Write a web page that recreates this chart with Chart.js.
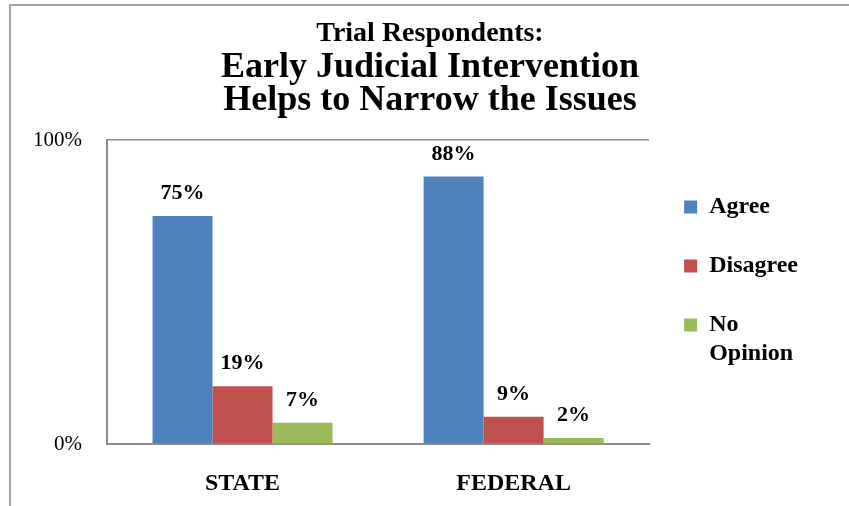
<!DOCTYPE html>
<html>
<head>
<meta charset="utf-8">
<script src="https://cdn.jsdelivr.net/npm/chart.js@4.4.1/dist/chart.umd.min.js"></script>
<style>
  html, body { margin: 0; padding: 0; background: #fff; }
  #contenedor { position: relative; width: 849px; height: 506px; overflow: hidden; }
  #marco { position: absolute; left: 9px; top: 4px; width: 900px; height: 600px; border-top: 2px solid #a3a3a3; border-left: 2px solid #a3a3a3; }
  canvas { position: absolute; left: 0; top: 0; }
</style>
</head>
<body>
<div id="contenedor">
  <div id="marco"></div>
  <canvas id="grafico" width="849" height="506"></canvas>
</div>
<script>
// datos
var categorias = ['STATE', 'FEDERAL'];
var acuerdo = [75, 88];
var desacuerdo = [19, 9];
var sinOpinion = [7, 2];
var marcasY = [0, 100];

var fuente = '"Liberation Serif", "Times New Roman", serif';

// etiquetas con el porcentaje encima de cada barra
var etiquetasBarras = {
    id: 'etiquetasBarras',
    afterDatasetsDraw: function(chart) {
        var ctx = chart.ctx;
        ctx.save();
        ctx.font = 'bold 22px ' + fuente;
        ctx.fillStyle = '#000';
        ctx.textAlign = 'center';
        ctx.textBaseline = 'alphabetic';
        chart.data.datasets.forEach(function(ds, i) {
            chart.getDatasetMeta(i).data.forEach(function(barra, j) {
                ctx.fillText(ds.data[j] + '%', barra.x, barra.y - 17);
            });
        });
        ctx.restore();
    }
};

var ctx = document.getElementById('grafico').getContext('2d');

new Chart(ctx, {
    type: 'bar',
    data: {
        labels: categorias,
        datasets: [
            { label: 'Agree', data: acuerdo, backgroundColor: '#4F81BD' },
            { label: 'Disagree', data: desacuerdo, backgroundColor: '#C0504D' },
            { label: ['No', 'Opinion'], data: sinOpinion, backgroundColor: '#9BBB59' }
        ]
    },
    options: {
        responsive: false,
        animation: false,
        datasets: {
            bar: { categoryPercentage: 0.664, barPercentage: 1 }
        },
        layout: { padding: { left: 20, right: 9, top: 0, bottom: 0 } },
        plugins: {
            title: {
                display: true,
                text: 'Trial Respondents:',
                color: '#000',
                font: { family: fuente, size: 28, weight: 'bold', lineHeight: 1.2 },
                padding: { top: 17, bottom: 0 }
            },
            subtitle: {
                display: true,
                text: ['Early Judicial Intervention', 'Helps to Narrow the Issues'],
                color: '#000',
                font: { family: fuente, size: 36, weight: 'bold', lineHeight: 0.917 },
                padding: { top: 1, bottom: 22.4 }
            },
            legend: {
                position: 'right',
                align: 'start',
                fullSize: false,
                title: { display: true, text: '', font: { size: 20, lineHeight: 1 }, padding: 0 },
                labels: {
                    boxWidth: 13,
                    boxHeight: 13,
                    padding: 35,
                    color: '#000',
                    font: { family: fuente, size: 24, weight: 'bold', lineHeight: 1.21 }
                }
            },
            tooltip: { enabled: false }
        },
        scales: {
            x: {
                offset: true,
                grid: { display: false, drawTicks: false },
                border: { display: true, color: '#8c8c8c', width: 2 },
                ticks: {
                    color: '#000',
                    padding: 25,
                    font: { family: fuente, size: 24, weight: 'bold' }
                },
                afterFit: function(escala) { escala.height = 62; }
            },
            y: {
                min: 0,
                max: 100,
                afterBuildTicks: function(escala) {
                    escala.ticks = marcasY.map(function(v) { return { value: v }; });
                },
                grid: { color: '#8c8c8c', lineWidth: 1.5, drawTicks: false },
                border: { display: true, color: '#8c8c8c', width: 2 },
                ticks: {
                    color: '#000',
                    padding: 25,
                    font: { family: fuente, size: 21 },
                    callback: function(v) { return v + '%'; }
                },
                afterFit: function(escala) { escala.width = 87; }
            },
            // eje oculto a la derecha de la leyenda, solo para reservar el margen
            relleno: {
                type: 'linear',
                position: 'right',
                display: false,
                weight: 2000,
                afterFit: function(escala) { escala.width = 32; }
            }
        }
    },
    plugins: [etiquetasBarras]
});
</script>
</body>
</html>
